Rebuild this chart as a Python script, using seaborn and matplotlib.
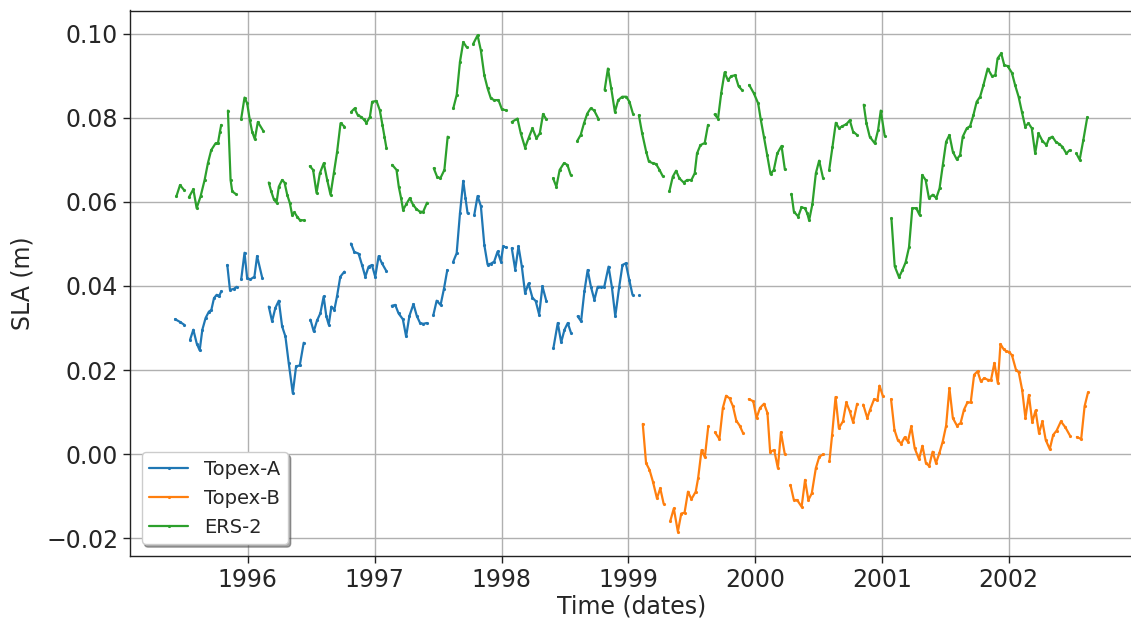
import numpy as np
import pandas as pd
import matplotlib
matplotlib.use("Agg")
import matplotlib.pyplot as plt
import matplotlib.dates as mdates
import seaborn as sns

GAP = None  # marks a break (missing data) in a series

# ---------------- data (decimal year, SLA in metres) ----------------
topex_a_year = [
    1995.426, 1995.462, 1995.497, GAP,
    1995.544, 1995.570, 1995.597, 1995.620, 1995.641, 1995.667, 1995.693, 1995.712, 1995.733, 1995.754, 1995.772, 1995.790, GAP,
    1995.838, 1995.859, 1995.890, 1995.911, GAP,
    1995.948, 1995.974, 1995.995, 1996.021, 1996.052, 1996.073, 1996.113, GAP,
    1996.165, 1996.191, 1996.217, 1996.244, 1996.270, 1996.296, 1996.322, 1996.354, 1996.380, 1996.409, 1996.440, GAP,
    1996.493, 1996.519, 1996.545, 1996.571, 1996.597, 1996.618, 1996.637, 1996.658, 1996.681, 1996.702, 1996.728, 1996.760, GAP,
    1996.812, 1996.838, 1996.872, 1996.899, 1996.925, 1996.951, 1996.977, 1997.003, 1997.030, 1997.056, 1997.090, GAP,
    1997.134, 1997.161, 1997.187, 1997.221, 1997.247, 1997.273, 1997.305, 1997.331, 1997.357, 1997.383, 1997.409, GAP,
    1997.462, 1997.488, 1997.519, 1997.546, 1997.572, GAP,
    1997.619, 1997.646, 1997.672, 1997.698, 1997.715, 1997.732, GAP,
    1997.785, 1997.811, 1997.837, 1997.864, 1997.890, 1997.916, 1997.942, 1997.969, 1997.995, 1998.013, 1998.034, GAP,
    1998.081, 1998.108, 1998.134, 1998.160, 1998.186, 1998.213, 1998.244, 1998.270, 1998.297, 1998.323, 1998.354, GAP,
    1998.410, 1998.444, 1998.471, 1998.497, 1998.523, 1998.549, GAP,
    1998.601, 1998.628, 1998.654, 1998.680, 1998.706, 1998.733, 1998.759, 1998.785, 1998.811, 1998.845, 1998.871, 1998.898, 1998.929, 1998.955, 1998.981, 1999.008, 1999.034, GAP,
    1999.085,
]
topex_a_sla = [
    0.0321, 0.0315, 0.0308, GAP,
    0.0272, 0.0296, 0.0263, 0.0247, 0.0296, 0.0324, 0.0339, 0.0343, 0.0371, 0.0379, 0.0375, 0.0387, GAP,
    0.0450, 0.0391, 0.0393, 0.0398, GAP,
    0.0416, 0.0479, 0.0418, 0.0416, 0.0422, 0.0471, 0.0420, GAP,
    0.0351, 0.0316, 0.0348, 0.0365, 0.0304, 0.0280, 0.0217, 0.0145, 0.0209, 0.0211, 0.0265, GAP,
    0.0320, 0.0292, 0.0318, 0.0335, 0.0375, 0.0328, 0.0308, 0.0351, 0.0343, 0.0375, 0.0422, 0.0434, GAP,
    0.0501, 0.0481, 0.0477, 0.0450, 0.0422, 0.0446, 0.0450, 0.0422, 0.0471, 0.0454, 0.0436, GAP,
    0.0353, 0.0355, 0.0335, 0.0321, 0.0280, 0.0329, 0.0357, 0.0329, 0.0312, 0.0310, 0.0312, GAP,
    0.0331, 0.0365, 0.0355, 0.0394, 0.0438, GAP,
    0.0458, 0.0478, 0.0573, 0.0650, 0.0610, 0.0573, GAP,
    0.0569, 0.0614, 0.0590, 0.0498, 0.0451, 0.0453, 0.0458, 0.0482, 0.0458, 0.0494, 0.0492, GAP,
    0.0490, 0.0439, 0.0494, 0.0447, 0.0383, 0.0406, 0.0372, 0.0364, 0.0332, 0.0399, 0.0364, GAP,
    0.0253, 0.0312, 0.0266, 0.0296, 0.0312, 0.0288, GAP,
    0.0328, 0.0316, 0.0387, 0.0438, 0.0398, 0.0367, 0.0398, 0.0398, 0.0398, 0.0446, 0.0398, 0.0328, 0.0398, 0.0450, 0.0454, 0.0415, 0.0379, GAP,
    0.0379,
]

topex_b_year = [
    1999.115, 1999.141, 1999.168, 1999.195, 1999.227, 1999.253, 1999.280, GAP,
    1999.333, 1999.360, 1999.392, 1999.419, 1999.445, 1999.472, 1999.499, 1999.533, 1999.552, 1999.579, 1999.605, 1999.632, GAP,
    1999.685, 1999.720, 1999.747, 1999.773, 1999.800, 1999.827, 1999.853, 1999.880, 1999.907, GAP,
    1999.952, 1999.987, 2000.013, 2000.040, 2000.072, 2000.099, 2000.120, 2000.152, 2000.181, 2000.205, 2000.235, GAP,
    2000.280, 2000.307, 2000.333, 2000.368, 2000.395, 2000.421, 2000.448, 2000.480, 2000.507, 2000.539, GAP,
    2000.587, 2000.608, 2000.635, 2000.661, 2000.693, 2000.720, 2000.747, 2000.773, 2000.805, GAP,
    2000.853, 2000.885, 2000.907, 2000.939, 2000.965, 2000.981, 2001.008, GAP,
    2001.072, 2001.099, 2001.125, 2001.152, 2001.179, 2001.205, 2001.232, 2001.259, 2001.293, 2001.320,
    2001.347, 2001.373, 2001.400, 2001.427, 2001.453, 2001.480, 2001.507, 2001.533, 2001.560, 2001.592,
    2001.621, 2001.648, 2001.675, 2001.701, 2001.728, 2001.755, 2001.781, 2001.808, 2001.835, 2001.861,
    2001.888, 2001.915, 2001.936, 2001.960, 2001.980, 2002.005, 2002.027, 2002.059, 2002.080, 2002.107,
    2002.133, 2002.160, 2002.187, 2002.213, 2002.240, 2002.267, 2002.293, 2002.325, 2002.352, 2002.379,
    2002.413, 2002.448, 2002.485, GAP,
    2002.539, 2002.573, 2002.600, 2002.627,
]
topex_b_sla = [
    0.0072, -0.0021, -0.0037, -0.0065, -0.0105, -0.0081, -0.0118, GAP,
    -0.0158, -0.0129, -0.0184, -0.0141, -0.0139, -0.0089, -0.0107, -0.0089, -0.0057, 0.0010, -0.0007, 0.0066, GAP,
    0.0052, 0.0036, 0.0110, 0.0139, 0.0133, 0.0114, 0.0080, 0.0068, 0.0050, GAP,
    0.0131, 0.0126, 0.0086, 0.0110, 0.0120, 0.0098, 0.0006, 0.0010, -0.0033, 0.0052, 0.0001, GAP,
    -0.0073, -0.0109, -0.0109, -0.0125, -0.0061, -0.0109, -0.0093, -0.0033, -0.0006, 0.0000, GAP,
    -0.0017, 0.0046, 0.0136, 0.0062, 0.0078, 0.0123, 0.0102, 0.0076, 0.0120, GAP,
    0.0118, 0.0086, 0.0106, 0.0131, 0.0128, 0.0163, 0.0138, GAP,
    0.0131, 0.0058, 0.0034, 0.0025, 0.0040, 0.0030, 0.0066, 0.0014, -0.0012, 0.0020,
    -0.0021, -0.0028, 0.0006, -0.0021, 0.0002, 0.0030, 0.0068, 0.0157, 0.0086, 0.0068,
    0.0074, 0.0106, 0.0123, 0.0123, 0.0189, 0.0197, 0.0173, 0.0181, 0.0177, 0.0176,
    0.0217, 0.0169, 0.0262, 0.0250, 0.0245, 0.0243, 0.0235, 0.0200, 0.0195, 0.0153,
    0.0086, 0.0141, 0.0076, 0.0104, 0.0050, 0.0078, 0.0034, 0.0012, 0.0046, 0.0056,
    0.0078, 0.0064, 0.0044, GAP,
    0.0041, 0.0036, 0.0114, 0.0147,
]

ers2_year = [
    1995.436, 1995.465, 1995.497, GAP,
    1995.535, 1995.570, 1995.596, 1995.627, 1995.659, 1995.685, 1995.711, 1995.745, 1995.764, 1995.780, 1995.790, GAP,
    1995.843, 1995.864, 1995.877, 1995.903, GAP,
    1995.948, 1995.974, 1995.995, 1996.016, 1996.034, 1996.055, 1996.079, 1996.121, GAP,
    1996.165, 1996.184, 1996.205, 1996.226, 1996.244, 1996.270, 1996.289, 1996.310, 1996.331, 1996.349, 1996.367, 1996.388, 1996.409, 1996.441, GAP,
    1996.488, 1996.514, 1996.541, 1996.567, 1996.598, 1996.625, 1996.651, 1996.677, 1996.703, 1996.730, 1996.761, GAP,
    1996.814, 1996.840, 1996.866, 1996.892, 1996.913, 1996.934, 1996.961, 1996.979, 1997.013, 1997.039, 1997.060, 1997.076, 1997.092, GAP,
    1997.137, 1997.171, 1997.189, 1997.207, 1997.223, 1997.249, 1997.276, 1997.302, 1997.328, 1997.354, 1997.381, 1997.412, GAP,
    1997.465, 1997.491, 1997.517, 1997.549, 1997.575, GAP,
    1997.619, 1997.646, 1997.672, 1997.698, 1997.724, GAP,
    1997.777, 1997.811, 1997.837, 1997.864, 1997.890, 1997.916, 1997.942, 1997.976, 1998.003, 1998.034, GAP,
    1998.081, 1998.126, 1998.152, 1998.186, 1998.213, 1998.244, 1998.276, 1998.302, 1998.328, 1998.354, GAP,
    1998.407, 1998.433, 1998.459, 1998.493, 1998.520, 1998.546, GAP,
    1998.598, 1998.625, 1998.651, 1998.677, 1998.703, 1998.730, 1998.764, GAP,
    1998.814, 1998.840, 1998.866, 1998.895, 1998.921, 1998.953, 1998.984, 1999.010, 1999.037, GAP,
    1999.084, 1999.110, 1999.142, 1999.163, 1999.194, 1999.220, 1999.247, 1999.273, GAP,
    1999.325, 1999.352, 1999.378, 1999.404, 1999.438, 1999.465, 1999.499, 1999.525, 1999.543, 1999.570, 1999.604, 1999.630, GAP,
    1999.682, 1999.709, 1999.735, 1999.761, 1999.787, 1999.814, 1999.845, 1999.871, 1999.898, GAP,
    1999.955, 1999.992, 2000.026, 2000.045, 2000.071, 2000.097, 2000.123, 2000.149, 2000.176, 2000.210, 2000.236, GAP,
    2000.288, 2000.307, 2000.341, 2000.367, 2000.393, 2000.412, 2000.427, 2000.453, 2000.480, 2000.506, 2000.537, GAP,
    2000.585, 2000.611, 2000.637, 2000.663, 2000.689, 2000.721, 2000.747, 2000.773, 2000.805, GAP,
    2000.857, 2000.878, 2000.904, 2000.944, 2000.970, 2000.991, 2001.022, GAP,
    2001.075, 2001.101, 2001.135, 2001.161, 2001.187, 2001.214, 2001.240, 2001.271, 2001.297, 2001.318,
    2001.345, 2001.371, 2001.402, 2001.429, 2001.455, 2001.481, 2001.507, 2001.533, 2001.560, 2001.591,
    2001.617, 2001.638, 2001.670, 2001.696, 2001.722, 2001.748, 2001.775, 2001.801, 2001.835, 2001.869,
    2001.895, 2001.913, 2001.942, 2001.966, 2001.992, 2002.026, 2002.052, 2002.079, 2002.105, 2002.131,
    2002.157, 2002.183, 2002.210, 2002.236, 2002.267, 2002.299, 2002.320, 2002.346, 2002.372, 2002.398,
    2002.425, 2002.456, 2002.482, GAP,
    2002.535, 2002.561, 2002.590, 2002.621,
]
ers2_sla = [
    0.0613, 0.0640, 0.0628, GAP,
    0.0611, 0.0630, 0.0585, 0.0613, 0.0652, 0.0692, 0.0723, 0.0739, 0.0739, 0.0767, 0.0783, GAP,
    0.0817, 0.0652, 0.0625, 0.0619, GAP,
    0.0798, 0.0848, 0.0834, 0.0794, 0.0767, 0.0749, 0.0790, 0.0769, GAP,
    0.0646, 0.0625, 0.0606, 0.0598, 0.0636, 0.0652, 0.0646, 0.0617, 0.0597, 0.0569, 0.0575, 0.0565, 0.0557, 0.0556, GAP,
    0.0685, 0.0676, 0.0621, 0.0668, 0.0692, 0.0652, 0.0617, 0.0668, 0.0719, 0.0787, 0.0779, GAP,
    0.0814, 0.0822, 0.0806, 0.0802, 0.0796, 0.0788, 0.0802, 0.0838, 0.0840, 0.0818, 0.0783, 0.0755, 0.0727, GAP,
    0.0688, 0.0676, 0.0636, 0.0609, 0.0581, 0.0595, 0.0609, 0.0593, 0.0583, 0.0577, 0.0576, 0.0598, GAP,
    0.0680, 0.0660, 0.0656, 0.0676, 0.0755, GAP,
    0.0822, 0.0854, 0.0933, 0.0980, 0.0968, GAP,
    0.0976, 0.0996, 0.0960, 0.0901, 0.0870, 0.0846, 0.0842, 0.0842, 0.0820, 0.0818, GAP,
    0.0790, 0.0798, 0.0763, 0.0729, 0.0751, 0.0775, 0.0751, 0.0763, 0.0809, 0.0796, GAP,
    0.0656, 0.0636, 0.0676, 0.0692, 0.0688, 0.0664, GAP,
    0.0745, 0.0759, 0.0787, 0.0810, 0.0822, 0.0818, 0.0798, GAP,
    0.0866, 0.0917, 0.0870, 0.0814, 0.0842, 0.0850, 0.0850, 0.0838, 0.0810, GAP,
    0.0806, 0.0763, 0.0719, 0.0696, 0.0692, 0.0690, 0.0676, 0.0661, GAP,
    0.0625, 0.0660, 0.0674, 0.0656, 0.0646, 0.0652, 0.0652, 0.0668, 0.0715, 0.0735, 0.0740, 0.0783, GAP,
    0.0808, 0.0798, 0.0860, 0.0908, 0.0889, 0.0899, 0.0901, 0.0875, 0.0866, GAP,
    0.0878, 0.0858, 0.0834, 0.0798, 0.0755, 0.0711, 0.0666, 0.0676, 0.0715, 0.0733, 0.0677, GAP,
    0.0619, 0.0577, 0.0565, 0.0587, 0.0585, 0.0573, 0.0556, 0.0595, 0.0668, 0.0698, 0.0656, GAP,
    0.0676, 0.0731, 0.0788, 0.0775, 0.0780, 0.0785, 0.0794, 0.0767, 0.0759, GAP,
    0.0831, 0.0787, 0.0755, 0.0739, 0.0771, 0.0817, 0.0757, GAP,
    0.0561, 0.0447, 0.0421, 0.0437, 0.0456, 0.0492, 0.0585, 0.0585, 0.0569, 0.0664,
    0.0652, 0.0609, 0.0617, 0.0609, 0.0632, 0.0688, 0.0743, 0.0759, 0.0719, 0.0701,
    0.0711, 0.0755, 0.0775, 0.0780, 0.0806, 0.0838, 0.0850, 0.0877, 0.0917, 0.0899,
    0.0901, 0.0941, 0.0953, 0.0925, 0.0923, 0.0907, 0.0877, 0.0850, 0.0814, 0.0779,
    0.0787, 0.0775, 0.0715, 0.0763, 0.0745, 0.0735, 0.0751, 0.0755, 0.0743, 0.0738,
    0.0731, 0.0715, 0.0723, GAP,
    0.0715, 0.0700, 0.0747, 0.0801,
]

series_names = ["Topex-A", "Topex-B", "ERS-2"]
series_colors = ["#1f77b4", "#ff7f0e", "#2ca02c"]
year_ticks = [1996, 1997, 1998, 1999, 2000, 2001, 2002]
sla_ticks = [-0.02, 0.00, 0.02, 0.04, 0.06, 0.08, 0.10]


def to_date(y):
    yr = int(np.floor(y))
    start = pd.Timestamp(yr, 1, 1)
    end = pd.Timestamp(yr + 1, 1, 1)
    return start + (end - start) * (y - yr)


rows = []
for name, years, vals in zip(series_names,
                             [topex_a_year, topex_b_year, ers2_year],
                             [topex_a_sla, topex_b_sla, ers2_sla]):
    seg = 0
    for y, v in zip(years, vals):
        if y is None or v is None:
            seg += 1
            continue
        rows.append({"date": to_date(y), "sla": v, "series": name,
                     "segment": f"{name}-{seg}"})
df = pd.DataFrame(rows)

# ---------------- style ----------------
sns.set_style("ticks")
plt.rcParams["font.family"] = ["DejaVu Sans"]

fig = plt.figure(figsize=(11.31, 6.2), dpi=100)
ax = fig.add_axes([130 / 1131, 64 / 620, 1004 / 1131, 545.5 / 620])

sns.lineplot(data=df, x="date", y="sla", hue="series", units="segment",
             estimator=None, hue_order=series_names, palette=series_colors,
             marker=".", markersize=3, markeredgecolor=None,
             linewidth=1.6, ax=ax)

ax.set_xlim(to_date(1995.07), to_date(2002.99))
ax.set_ylim(-0.0242, 0.1055)
ax.set_xticks([pd.Timestamp(y, 1, 1) for y in year_ticks])
ax.xaxis.set_major_formatter(mdates.DateFormatter("%Y"))
ax.set_yticks(sla_ticks)
ax.yaxis.set_major_formatter(matplotlib.ticker.FuncFormatter(
    lambda v, p: f"{v:.2f}".replace("-", "\u2212")))

ax.grid(True, color="#b0b0b0", linewidth=1.0)
for sp in ax.spines.values():
    sp.set_color("#222222")
    sp.set_linewidth(1.0)
ax.tick_params(axis="both", labelsize=17, length=5, width=1, color="#222222")

ax.set_xlabel("Time (dates)", fontsize=17, labelpad=2)
ax.set_ylabel("SLA (m)", fontsize=17, labelpad=8)

sns.move_legend(ax, "lower left", title=None, shadow=True, fancybox=True,
                frameon=True, fontsize=14, borderaxespad=0.6)

fig.savefig("out.png", dpi=100)
